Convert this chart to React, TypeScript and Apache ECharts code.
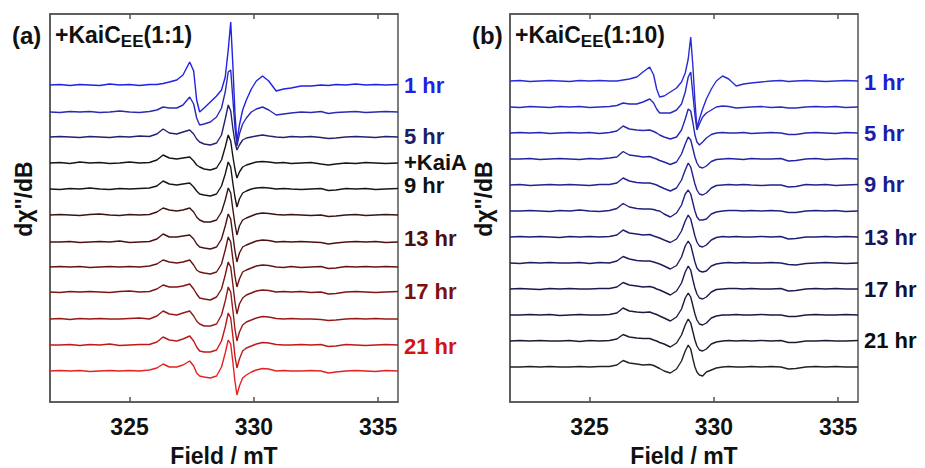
import React, { useEffect, useRef } from "react";
import * as echarts from "echarts";

// magnetic field grid (mT) shared by all spectra
const field = [
  321.8, 322.2, 322.6, 323.0, 323.4, 323.8, 324.2, 324.6, 325.0, 325.4, 325.8,
  326.1, 326.35, 326.6, 326.9, 327.15, 327.42, 327.58, 327.7, 327.82, 328.0,
  328.25, 328.5, 328.7, 328.85, 328.97, 329.07, 329.16, 329.24, 329.32, 329.42,
  329.55, 329.7, 329.9, 330.1, 330.35, 330.6, 330.9, 331.2, 331.5, 331.9,
  332.3, 332.7, 333.0, 333.3, 333.7, 334.1, 334.5, 334.9, 335.3, 335.8,
];
const tickValues = [325, 330, 335];

// ---------- panel (a) +KaiC_EE (1:1) ----------
const aNames = ["1 hr", "3 hr", "5 hr", "+KaiA", "9 hr", "11 hr", "13 hr", "15 hr", "17 hr", "19 hr", "21 hr", "23 hr"];
const aLabelled = [true, false, true, true, true, false, true, false, true, false, true, false];
const aBaselines = [317, 290, 265, 239, 213, 187, 160, 135, 110, 83, 57, 31];

const a1hr = [0, 0.5, -0.5, 0.5, 0, -0.5, 1, 0, 0.5, -0.5, 0.5,
  0.5, 1.5, 3, 5, 10, 23, 14, -15, -27, -23,
  -17, -11, -5, 8, 35, 63, 18, -28, -57, -40,
  -25, -15, -4, 4, 9, 4, -6, -4, -3, -1,
  -1, 0, -0.5, 0.5, 0, 1, 0, 0.5, 0, 0.5];
const a3hr = [0, -0.5, 0.5, 0, 0.5, -0.5, 0, 1, 0, -0.5, 0.5,
  2, 5, 4, 4, 7, 15, 8, -6, -13, -12,
  -10, -5, 4, 20, 40, 42, 12, -15, -34, -22,
  -12, -6, 0, 3, 5, 2, -3, -2, -1, 0,
  -0.5, 0.5, -1.5, -0.5, 0, 0.5, -0.5, 0, 0.5, 0];
const a5hr = [0, 0.5, 0, -0.5, 0.5, 0, -0.5, 0.5, 0, 1, 0.5,
  3, 8, 4, 3, 5, 7, 3, -2, -5, -7,
  -8, -6, 2, 18, 32, 26, 8, -5, -13, -8,
  -3, -1, 0, 1, 2, 1, 0, -0.5, 0.5, 0,
  0.5, -0.5, -1.5, -1, 0, 0.5, 0, -0.5, 0.5, 0];
const aKaiA = [0, 0.5, -0.5, 1, 0, 0.5, -0.5, 0, 1, 0, 0.5,
  3, 8, 5, 4, 5, 6, 2, -2, -4, -6,
  -7, -5, 3, 16, 28, 22, 6, -6, -15, -9,
  -4, -2, -0.5, 1, 1.5, 1, 0, 0.5, -0.5, 0,
  0.5, -1, -2, -1, 0, -0.5, 0.5, 0, -0.5, 0];
const a9hr = [0, -0.5, 0.5, 0, 1, 0, -0.5, 0.5, 0, 0.5, 1,
  3, 8, 5, 4, 5, 6, 2, -2, -5, -6,
  -7, -5, 3, 15, 27, 22, 5, -8, -18, -10,
  -4, -2, 0, 1, 1.5, 1, 0, 0.5, 0, -0.5,
  0, 0.5, -1.5, -1, 0.5, 0, 0.5, -0.5, 0, 0.5];
const a11hr = [0, 0.5, 0, -0.5, 0.5, 1, 0, -0.5, 0.5, 0, 0.5,
  3, 7, 5, 4, 5, 7, 3, -2, -5, -7,
  -7, -5, 3, 15, 27, 22, 5, -9, -20, -11,
  -5, -3, -1, 1, 2, 1.5, 0.5, 0, 0.5, 0,
  -0.5, 0, -1.5, -1, 0, 0.5, -0.5, 0, 0.5, 0];
const a13hr = [0, 0, 0.5, -0.5, 0, 0.5, 0, 1, -0.5, 0, 0.5,
  3, 8, 5, 5, 6, 7, 3, -2, -5, -6,
  -7, -5, 3, 16, 28, 23, 6, -9, -20, -11,
  -5, -3, -1, 1, 2, 1.5, 0, 0.5, 0, 0.5,
  0, -0.5, -2, -1, 0, 0.5, 0, 0.5, -0.5, 0];
const a15hr = [0, 0.5, 0, 0.5, -0.5, 0, 0.5, 0, 0.5, 0, 1,
  3, 7, 5, 4, 5, 7, 2, -3, -5, -6,
  -7, -5, 3, 17, 30, 25, 7, -9, -20, -12,
  -5, -3, -1, 1, 2, 1.5, 0, -0.5, 0.5, -0.5,
  0, 0.5, -1.5, -1, 0.5, 0, 0.5, 0, 0.5, 0];
const a17hr = [0, -0.5, 0.5, 0, 0.5, 0, -0.5, 0.5, 1, 0, 0.5,
  3, 7, 5, 5, 6, 8, 3, -2, -6, -7,
  -8, -5, 3, 17, 30, 25, 7, -10, -22, -12,
  -6, -3, -1, 1, 2, 1.5, 0, 0.5, 0, 0.5,
  -0.5, 0, -2, -1.5, 0, 0.5, 0, -0.5, 0, 0.5];
const a19hr = [0, 0.5, -0.5, 0.5, 0, 0.5, 0, 0, 0.5, 1, 0,
  3, 8, 5, 4, 6, 8, 3, -2, -5, -7,
  -7, -5, 4, 18, 32, 27, 8, -10, -22, -13,
  -6, -3, -1, 1, 2.5, 2, 0.5, 0, 0.5, 0,
  0, -0.5, -1.5, -1, 0, 0.5, 0, 0.5, 0, 0];
const a21hr = [0, 0, 0.5, -0.5, 0.5, 0, 1, -0.5, 0, 0.5, 0.5,
  3, 8, 5, 4, 6, 9, 4, -2, -6, -7,
  -7, -5, 4, 18, 32, 27, 8, -11, -23, -14,
  -6, -3, -1, 1, 2.5, 2, 0.5, 0, 0, 0.5,
  0, 0.5, -1.5, -1, 0.5, 0, -0.5, 0, 0.5, 0];
const a23hr = [0, 0.5, 0, 0.5, -0.5, 0, 0.5, 0, 0.5, 0, 1,
  3, 7, 4, 4, 6, 10, 5, -2, -5, -6,
  -7, -5, 4, 18, 31, 27, 8, -10, -24, -15,
  -7, -4, -1, 1, 2.5, 2, 0, 0.5, 0, 0,
  0.5, 0, -2, -1, 0, 0.5, 0, -0.5, 0.5, 0];
const aOffsets = [a1hr, a3hr, a5hr, aKaiA, a9hr, a11hr, a13hr, a15hr, a17hr, a19hr, a21hr, a23hr];

// ---------- panel (b) +KaiC_EE (1:10) ----------
const bNames = ["1 hr", "3 hr", "5 hr", "7 hr", "9 hr", "11 hr", "13 hr", "15 hr", "17 hr", "19 hr", "21 hr", "23 hr"];
const bLabelled = [true, false, true, false, true, false, true, false, true, false, true, false];
const bBaselines = [321, 295, 269, 243, 217, 191, 165, 139, 113, 87, 61, 35];

const b1hr = [0, 0.5, -0.5, 0, 0.5, 0, -0.5, 0.5, 0, 0.5, 0,
  0, 1, 2, 4, 9, 14, 6, -8, -16, -15,
  -11, -7, -1, 8, 22, 44, 14, -20, -47, -38,
  -28, -18, -8, 0, 5, 2, -5, -3, -2, -1,
  0, 0.5, -0.5, 0, 0.5, 0, -0.5, 0, 0.5, 0];
const b3hr = [0, -0.5, 0.5, 0, -0.5, 0.5, 0, 0.5, -0.5, 0, 0.5,
  1.5, 4, 3, 3, 5, 8, 4, -2, -6, -6,
  -6, -3, 3, 15, 30, 35, 12, -8, -23, -17,
  -10, -6, -3, 0, 1, 0.5, -1, -0.5, 0, 0.5,
  -0.5, 0, -1, -1, 0, 0.5, 0, 0.5, -0.5, 0];
const b5hr = [0, 0.5, 0, 0.5, -0.5, 0, 0.5, 0, 0.5, -0.5, 0.5,
  2, 7, 4, 3, 2.5, 3, 1.5, 0, -2, -4,
  -6, -4, 3, 14, 24, 22, 10, -2, -9, -12,
  -9, -5, -1.5, 0, 0.5, 0, 0, 0.5, -0.5, 0,
  0.5, 0, -1.5, -1.5, 0, 0.5, 0, -0.5, 0.5, 0];
const b7hr = [0, 0, 0.5, -0.5, 0, 0.5, 0, -0.5, 0.5, 0, 1,
  2, 7.5, 4, 3, 2, 2.5, 1, 0, -1.5, -3,
  -5.5, -3, 5, 15, 22, 19, 10, 2, -4, -8,
  -9, -7, -2.5, -0.5, 0, 0.5, 0, -0.5, 0.5, 0,
  0, 0.5, -2, -1.5, 0, 0.5, -0.5, 0, 0.5, 0];
const b9hr = [0, 0.5, -0.5, 0, 0.5, 0, 0.5, 0, -0.5, 0.5, 0.5,
  2, 7, 4, 2.5, 2, 2, 1, 0, -1.5, -3.5,
  -6, -3, 5, 15, 22, 18, 9, 1, -5, -9,
  -10, -8, -3, -0.5, 0, 0.5, 0, 0.5, 0, -0.5,
  0, 0, -2, -1.5, 0.5, 0, 0.5, -0.5, 0, 0.5];
const b11hr = [0, 0, 0.5, 0, -0.5, 0.5, 0, 1, 0, -0.5, 0.5,
  2.5, 7.5, 4, 2.5, 2, 2, 1.5, 0.5, 0, -3,
  -6, -2, 6, 17, 21, 17, 8, 0, -6, -9,
  -9, -8, -3, -1, 0, 0.5, 0.5, 0, 0.5, 0,
  0.5, 0, -1.5, -1.5, 0, 0.5, 0, 0.5, -0.5, 0];
const b13hr = [0, 0.5, 0, 0.5, 0, -0.5, 0.5, 0, 0.5, 0, 0.5,
  2, 7, 4, 3, 2, 2.5, 1, 0, -1, -3,
  -5.5, -2, 6, 16, 22, 18, 9, 1, -5, -9,
  -10, -8, -3, -0.5, 0.5, 0, 0.5, 0, 0, 0.5,
  0, 0.5, -2, -1.5, 0, 0, 0.5, 0, 0.5, 0];
const b15hr = [0, -0.5, 0.5, 0, 0.5, 0, 0, 0.5, -0.5, 0.5, 0,
  2, 6.5, 4, 2.5, 2, 2, 1, 0, -1, -3,
  -6, -2.5, 6, 17, 22, 18, 9, 1, -5, -8,
  -9, -8, -3, -1, 0, 0.5, 0, 0.5, 0, 0,
  0.5, 0, -1.5, -2, -0.5, 0, 0.5, 0, -0.5, 0];
const b17hr = [0, 0.5, 0, -0.5, 0.5, 0, 0.5, 0, 0, 0.5, 0.5,
  2, 6.5, 4, 3, 2, 2.5, 1.5, 0, -1, -3,
  -6, -2, 6, 17, 23, 19, 9, 1, -5, -9,
  -10, -8, -3, -0.5, 0, 0.5, 0.5, 0, 0.5, 0,
  0, 0.5, -2, -1.5, 0, 0.5, 0, 0.5, 0, 0];
const b19hr = [0, 0, 0.5, 0, 0.5, -0.5, 0, 0.5, 0, 0, 0.5,
  2, 7, 4, 3, 2.5, 3, 1.5, 0.5, -1, -3,
  -6, -2, 6, 17, 22, 18, 9, 1, -5, -9,
  -10, -8, -3, -1, 0, 0, 0.5, 0, 0, 0.5,
  0, 0, -1.5, -1.5, 0, 0.5, 0, 0, 0.5, 0];
const b21hr = [0, 0.5, 0, 0.5, 0, 0, 0.5, -0.5, 0.5, 0, 0.5,
  2, 6.5, 4, 3, 2.5, 2.5, 1, 0, -1.5, -3,
  -6, -2, 6, 16, 22, 18, 9, 1, -5, -9,
  -10, -8, -3, -1, 0, 0.5, 0, 0.5, 0, 0.5,
  0, 0.5, -1.5, -1.5, 0, 0, 0.5, 0, 0, 0.5];
const b23hr = [0, 0, 0.5, 0, 0.5, 0, 0, 0.5, 0, 0.5, 0.5,
  2, 6.5, 4, 3, 2, 2.5, 1.5, 0, -1.5, -4,
  -6, -2, 6, 16, 22, 18, 8, 0, -5, -8,
  -9, -5, -3, -1, 0, 0.5, 0, 0, 0.5, 0,
  0.5, 0, -2, -1.5, 0, 0.5, 0, 0.5, 0, 0];
const bOffsets = [b1hr, b3hr, b5hr, b7hr, b9hr, b11hr, b13hr, b15hr, b17hr, b19hr, b21hr, b23hr];

// ---------- styles ----------
const FONT = "'Liberation Sans', Arial, Helvetica, sans-serif";
const aColors = ["#2020e8", "#2a2ab4", "#22226e", "#151515", "#1a1414", "#3a1414", "#4e1010", "#661414", "#7e1414", "#9a1818", "#c01818", "#e42222"];
const aLabelColors = ["#1f1fe6", "", "#1e1e64", "#111111", "#111111", "", "#4a0e0e", "", "#7c1010", "", "#d01414", ""];
const aLabelDy = [1, 0, -1, -1, -3, 0, -4, 0, 0, 0, 1, 0];
const bColors = ["#2b2bd6", "#2929c4", "#2626b2", "#2424a0", "#222290", "#202080", "#1e1e70", "#1c1c60", "#1a1a50", "#1a1a40", "#1c1c30", "#222222"];
const bLabelColors = ["#1c1cd2", "", "#1c1cae", "", "#1c1c8e", "", "#16165c", "", "#10103a", "", "#0d0d0d", ""];
const bLabelDy = [1, 0, 0, 0, 0, 0, 0, 0, 0, 0, 0, 0];

function buildSeries(
  xAxisIndex: number,
  yAxisIndex: number,
  names: string[],
  baselines: number[],
  offsets: number[][],
  colors: string[],
  labelled: boolean[],
  labelColors: string[],
  labelDy: number[]
) {
  return offsets.map((off, i) => ({
    type: "line",
    name: names[i],
    xAxisIndex,
    yAxisIndex,
    data: field.map((f, j) => [f, baselines[i] + off[j]]),
    symbol: "none",
    showSymbol: false,
    silent: true,
    lineStyle: { color: colors[i], width: 1.4 },
    itemStyle: { color: colors[i] },
    endLabel: labelled[i]
      ? {
          show: true,
          formatter: () => names[i],
          color: labelColors[i],
          fontSize: 22,
          lineHeight: 17,
          fontWeight: "bold",
          fontFamily: FONT,
          distance: 6,
          offset: [0, labelDy[i]],
        }
      : { show: false },
  }));
}

function xAxisPair(gridIndex: number) {
  const line = { color: "#555555", width: 1.5 };
  return [
    {
      type: "value",
      gridIndex,
      position: "bottom",
      min: 321.8,
      max: 335.8,
      axisLine: { show: true, lineStyle: line },
      axisTick: { show: true, inside: true, length: 5, customValues: tickValues, lineStyle: line },
      axisLabel: {
        show: true,
        customValues: tickValues,
        fontSize: 23,
        fontWeight: "bold",
        color: "#111111",
        fontFamily: FONT,
        margin: 13,
      },
      splitLine: { show: false },
      name: "Field / mT",
      nameLocation: "middle",
      nameGap: 43,
      nameTextStyle: { fontSize: 23, lineHeight: 22, fontWeight: "bold", color: "#111111", fontFamily: FONT },
    },
    {
      type: "value",
      gridIndex,
      position: "top",
      min: 321.8,
      max: 335.8,
      axisLine: { show: true, lineStyle: line },
      axisTick: { show: true, inside: true, length: 5, customValues: tickValues, lineStyle: line },
      axisLabel: { show: false },
      splitLine: { show: false },
    },
  ];
}

function yAxisFor(gridIndex: number) {
  return {
    type: "value",
    gridIndex,
    min: 0,
    max: 388,
    axisLine: { show: true, lineStyle: { color: "#555555", width: 1.5 } },
    axisTick: { show: false },
    axisLabel: { show: false },
    splitLine: { show: false },
  };
}

function titleTexts(dx: number, label: string, ratio: string) {
  return [
    {
      type: "text",
      x: dx + 12,
      y: 35,
      style: {
        text: label,
        fontSize: 24,
        fontWeight: "bold",
        fontFamily: FONT,
        fill: "#111111",
        align: "left",
        verticalAlign: "middle",
      },
    },
    {
      type: "text",
      x: dx + 55,
      y: 35,
      style: {
        text: "{m|+KaiC}{s|EE}{m|" + ratio + "}",
        align: "left",
        verticalAlign: "middle",
        rich: {
          m: { fontSize: 23, fontWeight: "bold", fontFamily: FONT, fill: "#111111", lineHeight: 29 },
          s: { fontSize: 17, fontWeight: "bold", fontFamily: FONT, fill: "#111111", lineHeight: 17, verticalAlign: "bottom" },
        },
      },
    },
    {
      type: "text",
      x: dx + 24,
      y: 199,
      rotation: Math.PI / 2,
      style: {
        text: "dχ''/dB",
        fontSize: 23,
        fontWeight: "bold",
        fontFamily: FONT,
        fill: "#111111",
        align: "center",
        verticalAlign: "middle",
      },
    },
  ];
}

export default function App() {
  const ref = useRef<HTMLDivElement>(null);
  useEffect(() => {
    if (!ref.current) return;
    const chart = echarts.init(ref.current, undefined, { renderer: "svg" });
    const gridBase = {
      top: 14,
      width: 348,
      height: 388,
      show: true,
      borderColor: "#555555",
      borderWidth: 1.5,
      backgroundColor: "transparent",
      containLabel: false,
      outerBoundsMode: "none",
    };
    const option = {
      animation: false,
      backgroundColor: "#ffffff",
      grid: [
        { ...gridBase, left: 50 },
        { ...gridBase, left: 510 },
      ],
      xAxis: [...xAxisPair(0), ...xAxisPair(1)],
      yAxis: [yAxisFor(0), yAxisFor(1)],
      series: [
        ...buildSeries(0, 0, aNames, aBaselines, aOffsets, aColors, aLabelled, aLabelColors, aLabelDy),
        ...buildSeries(2, 1, bNames, bBaselines, bOffsets, bColors, bLabelled, bLabelColors, bLabelDy),
      ],
      graphic: [...titleTexts(0, "(a)", "(1:1)"), ...titleTexts(460, "(b)", "(1:10)")],
    };
    chart.setOption(option as any);
    return () => chart.dispose();
  }, []);
  return (
    <div
      ref={ref}
      style={{ position: "fixed", left: 0, top: 0, width: 925, height: 468, background: "#ffffff" }}
    />
  );
}
